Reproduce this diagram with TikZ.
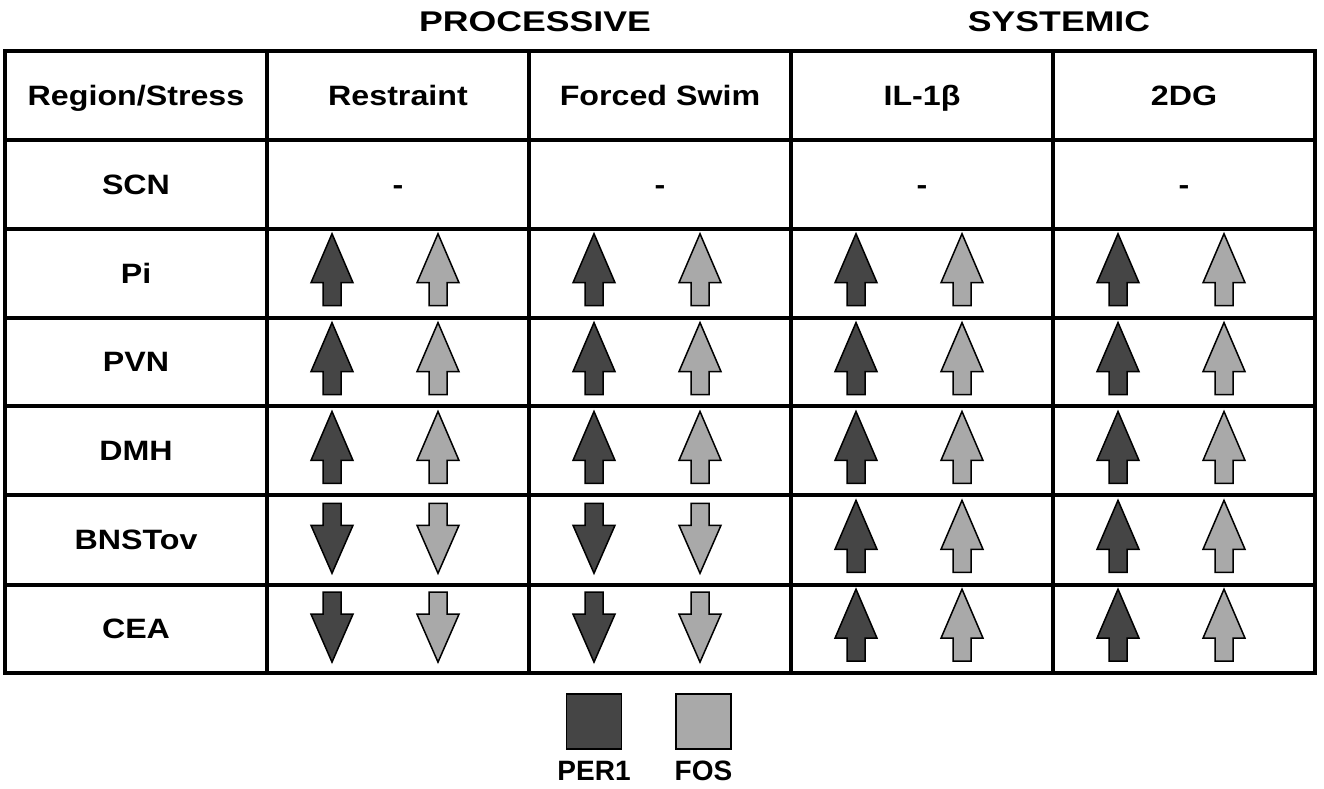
\documentclass[tikz,border=0pt]{standalone}
\usepackage{fontspec}
\setmainfont{Liberation Sans}
\newfontfamily\tabfont{Liberation Sans}[FakeStretch=1.15]
\newfontfamily\grpfont{Liberation Sans}[FakeStretch=1.25]
\usetikzlibrary{positioning}

\definecolor{perone}{HTML}{454545}
\definecolor{fos}{HTML}{A9A9A9}

\tikzset{
  cell/.style={font=\tabfont\bfseries\fontsize{28}{32}\selectfont, inner sep=0pt, anchor=base},
  group/.style={font=\grpfont\bfseries\fontsize{28.5}{32}\selectfont, inner sep=0pt},
  keylab/.style={font=\bfseries\fontsize{28}{32}\selectfont, inner sep=0pt},
  keybox/.style={draw, line width=1.5pt, minimum size=55pt, inner sep=0pt},
  rule/.style={line width=4pt},
  uparr/.pic={\draw[line width=1.5pt, fill=#1] (0,5) -- (21,54) -- (9,54) -- (9,77) -- (-9,77) -- (-9,54) -- (-21,54) -- cycle;},
  downarr/.pic={\draw[line width=1.5pt, fill=#1] (-9,8) -- (9,8) -- (9,30) -- (21,30) -- (0,78) -- (-21,30) -- (-9,30) -- cycle;},
}

\begin{document}
\begin{tikzpicture}[x=1pt, y=-1pt]
  \useasboundingbox (0,0) rectangle (1324,788);

  % groups over the columns
  \node[group] (proc) at (535,22) {PROCESSIVE};
  \node[group] (syst) at (1059,22) {SYSTEMIC};

  % grid
  \draw[rule] (5,51) rectangle (1315,673);
  \foreach \x in {267,529,791,1053}
    \draw[rule] (\x,51) -- (\x,673);
  \foreach \y in {140,229,318,406,495,585}
    \draw[rule] (5,\y) -- (1315,\y);

  % row labels
  \foreach \lab [count=\r from 0] in {{Region/Stress},SCN,Pi,PVN,DMH,BNSTov,CEA}
    \node[cell] (row\r) at (136,{51+88.86*\r+54.4}) {\lab};

  % column heads and the SCN row
  \foreach \hd [count=\c] in {Restraint,Forced Swim,IL-1β,2DG} {
    \node[cell] (head\c) at ({136+262*\c},105.8) {\hd};
    \node[cell] (dash\c) at ({136+262*\c},194.3) {-};
  }

  % PER1 / FOS arrows
  \foreach \r/\kind in {2/uparr,3/uparr,4/uparr,5/downarr,6/downarr}
    \foreach \c in {1,2} {
      \pic at ({5+262*\c+65},{51+88.86*\r}) {\kind=perone};
      \pic at ({5+262*\c+171},{51+88.86*\r}) {\kind=fos};
    }
  \foreach \r in {2,...,6}
    \foreach \c in {3,4} {
      \pic at ({5+262*\c+65},{51+88.86*\r}) {uparr=perone};
      \pic at ({5+262*\c+171},{51+88.86*\r}) {uparr=fos};
    }

  % key
  \node[keybox, fill=perone] (perkey) at (594,721.5) {};
  \node[keybox, fill=fos, right=53pt of perkey] (foskey) {};
  \node[keylab, below=11pt of perkey] (perlab) {PER1};
  \node[keylab, below=11pt of foskey] (foslab) {FOS};
\end{tikzpicture}
\end{document}
